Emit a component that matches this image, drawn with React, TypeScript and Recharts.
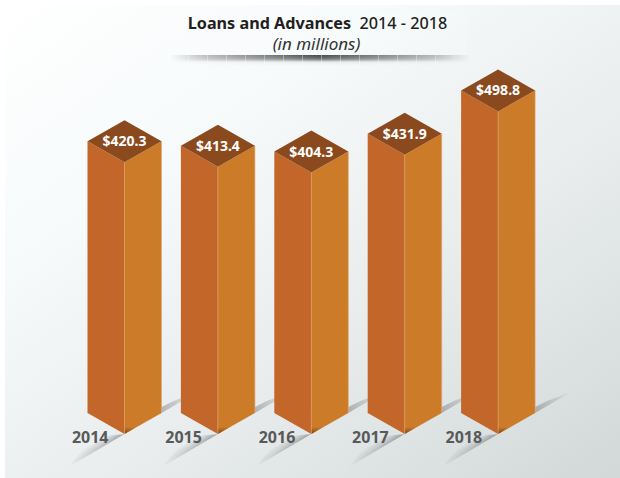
import React from "react";
import { BarChart, Bar, XAxis, YAxis, LabelList } from "recharts";

const years = ["2014", "2015", "2016", "2017", "2018"];
const loans = [420.3, 413.4, 404.3, 431.9, 498.8];
const data = years.map((year, i) => ({ year, value: loans[i] }));

const FONT = "'Noto Sans', 'Open Sans', sans-serif";

function Prism(props: any) {
  const { x, y, width, height } = props;
  const w = width / 2;
  const r = 21;
  const cx = x + w;
  const bottom = y + height;
  const top = y;
  return (
    <g>
      <g transform={`translate(${cx},${bottom})`}>
        <g mask="url(#fadeLeftMask)">
          <polygon points="0,0 -56,33 -40,14 -20,2" fill="url(#shadowLeft)" />
        </g>
        <g mask="url(#fadeRightMask)">
          <polygon points={`${w},${-r} ${w + 36},${-r - 21} ${w + 12},${-r - 12} ${w},${-r - 6}`} fill="url(#shadowRight)" />
        </g>
      </g>
      <polygon points={`${x},${top - r} ${cx},${top} ${cx},${bottom} ${x},${bottom - r}`} fill="#C26629" />
      <polygon points={`${cx},${top} ${x + width},${top - r} ${x + width},${bottom - r} ${cx},${bottom}`} fill="#CC7C28" />
      <g transform={`translate(${cx},${bottom})`}>
        <polygon points={`0,0 ${w},${-r} ${w},${-r - 7} 0,-7`} fill="url(#edgeDark)" />
      </g>
      <line x1={cx} y1={top} x2={cx} y2={bottom} stroke="#DA9A5E" strokeWidth={0.8} />
      <line x1={x + width} y1={top - r} x2={x + width} y2={bottom - r} stroke="#E0A56A" strokeWidth={0.6} />
      <polygon points={`${cx},${top - 2 * r} ${x + width},${top - r} ${cx},${top} ${x},${top - r}`} fill="#8B4A1E" />
    </g>
  );
}

function PriceLabel(props: any) {
  const { x, y, width, value } = props;
  return (
    <text x={x + width / 2} y={y - 21} dy={5} textAnchor="middle" fill="#FFFFFF" fontFamily={FONT} fontWeight={700} fontSize={14}>
      {`$${value.toFixed(1)}`}
    </text>
  );
}

export default function App() {
  return (
    <div style={{ position: "absolute", left: 0, top: 0, width: 620, height: 478, background: "#fff", overflow: "hidden" }}>
      <div style={{ position: "absolute", left: 5, top: 5, width: 615, height: 473, background: "linear-gradient(145deg, #FFFFFF 0%, #F6FAFB 30%, #E8ECEC 62%, #D2D8D8 100%)" }} />
      <div style={{ position: "absolute", left: 170, top: 13, width: 296, height: 42, background: "rgba(255,255,255,0.2)" }} />
      <div style={{ position: "absolute", left: 170, top: 55, width: 300, height: 11, background: "repeating-linear-gradient(90deg, rgba(255,255,255,0) 0px, rgba(255,255,255,0) 18px, rgba(255,255,255,0.35) 18px, rgba(255,255,255,0.35) 19px), linear-gradient(180deg, rgba(50,50,50,0.9) 0%, rgba(70,70,70,0.75) 35%, rgba(120,120,120,0.1) 65%, rgba(255,255,255,0.25) 100%)", WebkitMaskImage: "linear-gradient(90deg, transparent 0%, rgba(0,0,0,0.35) 12%, #000 50%, rgba(0,0,0,0.35) 88%, transparent 100%)" }} />
      <div style={{ position: "absolute", left: 0, top: 13, width: 635, textAlign: "center", fontFamily: FONT, fontSize: 16.2, lineHeight: "21px", color: "#231F20" }}>
        <span style={{ fontWeight: 700 }}>Loans and Advances</span>
        <span style={{ fontWeight: 500 }}>{"\u00A0 2014 - 2018"}</span>
      </div>
      <div style={{ position: "absolute", left: 0, top: 33, width: 633, textAlign: "center", fontFamily: FONT, fontSize: 17, fontStyle: "italic", lineHeight: "21px", color: "#333" }}>
        (in millions)
      </div>
      <div style={{ position: "absolute", left: 0, top: 0 }}>
        <BarChart width={620} height={478} data={data} margin={{ top: 46, right: 75.5, bottom: 14, left: 77.5 }} barSize={74}>
          <defs>
            <linearGradient id="shadowLeft" gradientUnits="userSpaceOnUse" x1="-27" y1="16" x2="-31" y2="9">
              <stop offset="0" stopColor="#444" stopOpacity={0.42} />
              <stop offset="1" stopColor="#444" stopOpacity={0} />
            </linearGradient>
            <linearGradient id="shadowRight" gradientUnits="userSpaceOnUse" x1="47" y1="-32" x2="43" y2="-39">
              <stop offset="0" stopColor="#444" stopOpacity={0.34} />
              <stop offset="1" stopColor="#444" stopOpacity={0} />
            </linearGradient>
            <linearGradient id="edgeDark" gradientUnits="userSpaceOnUse" x1="0" y1="0" x2="0" y2="-7">
              <stop offset="0" stopColor="#6B3A12" stopOpacity={0.85} />
              <stop offset="1" stopColor="#6B3A12" stopOpacity={0} />
            </linearGradient>
            <linearGradient id="fadeLeft" gradientUnits="userSpaceOnUse" x1="-8" y1="4" x2="-56" y2="33">
              <stop offset="0" stopColor="#fff" stopOpacity={1} />
              <stop offset="1" stopColor="#fff" stopOpacity={0} />
            </linearGradient>
            <linearGradient id="fadeRight" gradientUnits="userSpaceOnUse" x1="37" y1="-21" x2="74" y2="-43">
              <stop offset="0" stopColor="#fff" stopOpacity={1} />
              <stop offset="1" stopColor="#fff" stopOpacity={0} />
            </linearGradient>
            <mask id="fadeLeftMask" maskUnits="userSpaceOnUse" x="-70" y="-10" width="80" height="55">
              <rect x="-70" y="-10" width="80" height="55" fill="url(#fadeLeft)" />
            </mask>
            <mask id="fadeRightMask" maskUnits="userSpaceOnUse" x="30" y="-60" width="60" height="50">
              <rect x="30" y="-60" width="60" height="50" fill="url(#fadeRight)" />
            </mask>
          </defs>
          <XAxis
            dataKey="year"
            height={30}
            axisLine={false}
            tickLine={false}
            interval={0}
            dx={-34}
            dy={-10}
            tick={{ fill: "#58595B", fontFamily: FONT, fontWeight: 700, fontSize: 16 }}
          />
          <YAxis hide domain={[0, 600]} />
          <Bar dataKey="value" shape={<Prism />} isAnimationActive={false}>
            <LabelList dataKey="value" content={<PriceLabel />} />
          </Bar>
        </BarChart>
      </div>
    </div>
  );
}
